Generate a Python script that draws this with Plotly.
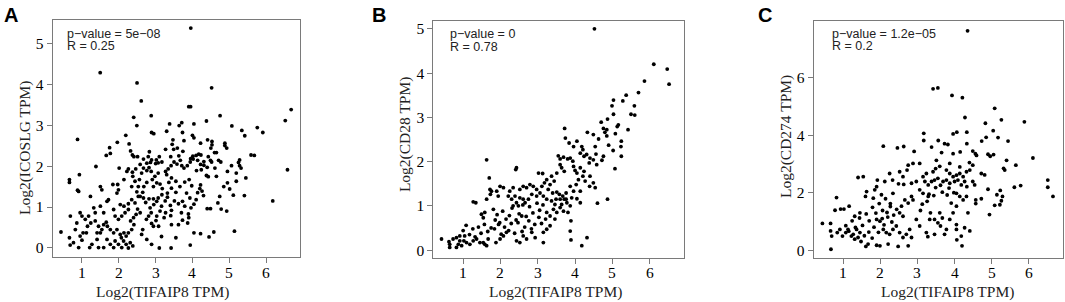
import plotly.graph_objects as go

# ---------------- data ----------------
x_title = "Log2(TIFAIP8 TPM)"
panel_letters = ["A", "B", "C"]
y_titles = ["Log2(ICOSLG TPM)", "Log2(CD28 TPM)", "Log2(CD274 TPM)"]
stats_p = ["p\u2212value = 5e\u221208", "p\u2212value = 0", "p\u2212value = 1.2e\u221205"]
stats_r = ["R = 0.25", "R = 0.78", "R = 0.2"]
x_ticks = [1, 2, 3, 4, 5, 6]
a_yticks = [0, 1, 2, 3, 4, 5]
b_yticks = [0, 1, 2, 3, 4, 5]
c_yticks = [0, 2, 4, 6]

a_points = [
    (3.955, 5.37), (1.495, 4.28), (2.495, 4.03), (4.52, 3.91), (2.61, 3.59), (3.90, 3.45), (3.95, 3.45),
    (6.68, 3.38), (2.405, 3.19), (2.88, 3.23), (4.75, 3.23), (6.52, 3.11), (2.49, 2.99), (3.38, 3.03),
    (3.71, 3.06), (3.64, 2.99), (4.04, 3.03), (4.38, 3.10), (5.07, 2.98), (5.34, 2.87), (5.76, 2.94),
    (5.91, 2.82), (2.89, 2.82), (2.95, 2.79), (3.30, 2.85), (3.73, 2.82), (0.88, 2.65), (4.0, 2.75),
    (4.04, 2.69), (3.77, 2.62), (4.22, 2.56), (4.41, 2.64), (4.53, 2.60), (4.88, 2.56), (4.88, 2.50),
    (4.93, 2.44), (4.53, 2.52), (4.50, 2.44), (5.42, 2.74), (2.19, 2.75), (1.96, 2.58), (2.28, 2.54),
    (1.75, 2.45), (3.47, 2.64),
    (1.66, 2.26), (1.77, 2.31), (1.38, 1.99), (2.01, 1.95), (2.32, 2.37), (2.37, 2.27), (2.41, 2.23),
    (2.51, 2.23), (2.58, 2.04), (2.26, 1.93), (2.22, 1.87), (2.37, 1.85), (2.46, 1.93), (2.89, 2.15),
    (2.86, 2.09), (3.02, 2.15), (3.07, 2.08), (3.17, 2.10), (3.10, 2.23), (3.27, 2.41), (3.0, 2.06),
    (2.76, 1.89), (2.82, 1.96), (2.88, 1.87), (3.45, 2.53), (3.49, 2.41), (3.59, 2.44), (3.41, 2.23),
    (3.63, 2.25), (3.74, 2.36), (3.67, 2.14), (3.50, 2.10), (3.42, 2.01), (3.58, 2.05), (3.71, 2.01),
    (3.77, 1.95), (3.86, 2.01), (3.95, 2.18), (3.94, 2.10), (4.01, 2.24), (4.02, 2.17), (4.10, 2.26),
    (4.14, 2.14), (4.17, 2.29), (4.23, 2.27), (4.31, 2.11), (4.22, 2.04), (4.31, 2.02), (4.43, 2.23),
    (4.49, 2.14), (4.52, 2.10), (4.60, 2.33), (4.65, 2.33), (4.71, 2.14), (4.77, 2.10), (4.40, 1.97),
    (4.24, 1.91), (4.11, 1.89), (4.61, 1.95), (4.38, 1.77), (4.43, 1.74), (4.65, 1.75), (4.95, 1.87),
    (4.95, 1.59), (5.19, 1.83), (5.25, 2.09), (5.28, 2.15), (5.28, 2.01), (5.32, 1.95), (5.19, 1.63),
    (5.45, 1.71), (5.59, 2.27), (5.68, 2.26), (5.06, 2.01), (6.58, 1.91), (6.18, 1.15), (5.41, 1.28),
    (5.11, 1.29), (4.93, 0.90), (5.14, 0.41), (4.58, 0.39), (4.45, 0.27), (4.22, 0.35), (4.04, 0.37),
    (3.94, 0.07), (3.87, 0.61), (3.89, 0.83), (3.90, 0.74), (3.96, 0.98), (4.04, 1.07), (4.10, 1.18),
    (4.14, 1.35), (4.20, 1.45), (4.22, 1.54), (4.26, 1.39), (4.30, 1.28), (4.40, 0.96), (4.49, 0.96),
    (3.93, 1.22), (3.98, 1.52), (3.91, 1.67), (3.79, 1.61), (3.84, 1.34), (3.73, 1.14), (3.79, 1.02),
    (3.70, 0.86), (3.62, 1.08), (3.51, 1.15), (3.55, 1.36), (3.43, 1.46), (3.36, 1.60), (3.43, 1.71),
    (3.30, 1.79), (3.27, 1.87), (3.34, 1.93), (3.55, 1.63), (3.66, 1.50), (3.32, 1.34), (3.32, 1.24),
    (3.26, 1.15), (3.40, 1.04), (3.43, 0.92), (3.41, 0.79), (3.27, 0.86), (3.23, 0.74), (3.43, 0.57),
    (3.55, 0.25), (3.62, 0.57), (3.73, 0.68), (3.16, 1.02), (3.12, 0.90), (3.03, 0.78), (3.01, 0.67),
    (2.89, 0.60), (2.94, 0.53), (3.16, 0.28), (3.08, 0.53), (3.42, 0.0), (3.10, 0.0), (2.89, 0.09),
    (2.76, 0.21), (2.62, 0.33), (2.65, 0.45), (2.75, 0.70), (2.81, 0.78), (2.88, 0.86), (2.85, 0.98),
    (2.95, 1.06), (3.03, 1.14), (2.94, 1.20), (2.82, 1.20), (3.07, 1.22), (3.17, 1.30), (3.18, 1.45),
    (3.12, 1.56), (3.03, 1.59), (2.94, 1.50), (2.91, 1.67), (2.98, 1.75), (3.07, 1.83), (2.76, 1.60),
    (2.68, 1.50), (2.65, 1.36), (2.58, 1.26), (2.49, 1.37), (2.44, 1.10), (2.51, 0.95), (2.58, 0.86),
    (2.47, 0.82), (2.40, 0.74), (2.32, 0.66), (2.41, 0.57), (2.35, 0.45), (2.26, 0.37), (2.20, 0.29),
    (2.14, 0.37), (2.07, 0.25), (2.13, 0.17), (2.20, 0.09), (2.31, 0.13), (2.38, 0.05), (2.26, 0.0),
    (2.08, 0.01), (1.99, 0.09), (2.04, 0.33), (1.95, 0.45), (1.86, 0.37), (1.77, 0.45), (1.69, 0.53),
    (1.66, 0.63), (1.59, 0.86), (1.50, 1.02), (1.68, 1.14), (1.72, 1.18), (1.86, 0.94), (1.90, 0.78),
    (1.99, 0.70), (2.08, 0.78), (2.17, 0.86), (2.26, 0.94), (2.04, 1.06), (2.14, 1.02), (2.26, 1.08),
    (2.35, 1.18), (1.95, 1.34), (1.99, 1.42), (1.97, 1.55), (1.84, 1.55), (1.50, 1.50), (1.54, 1.42),
    (1.23, 1.26), (1.32, 0.98), (1.36, 0.86), (1.18, 0.78), (1.09, 0.70), (0.95, 0.86), (1.0, 0.78),
    (0.86, 0.61), (0.82, 0.45), (0.685, 0.78), (0.66, 1.67), (0.66, 1.60), (0.93, 1.79), (0.88, 1.41),
    (0.91, 1.38), (0.43, 0.39), (0.66, 0.25), (0.68, 0.07), (0.77, 0.13), (0.91, 0.01), (1.0, 0.19),
    (1.12, 0.37), (1.21, 0.01), (1.27, 0.09), (1.41, 0.21), (1.50, 0.37), (1.45, 0.01), (1.59, 0.01),
    (1.68, 0.21), (1.77, 0.09), (1.86, 0.01), (1.90, 0.17), (1.24, 0.61), (1.36, 0.66), (1.45, 0.53),
    (1.54, 0.45), (1.59, 0.57), (1.15, 0.53), (1.03, 0.37), (0.95, 0.29), (1.41, 0.37), (2.53, 1.50),
    (2.56, 1.67), (2.62, 1.83), (2.67, 1.95), (2.76, 2.07), (2.67, 2.17), (2.80, 2.23), (2.83, 2.35),
    (2.35, 1.50), (2.44, 1.63), (2.38, 1.75), (2.14, 1.67), (2.53, 1.26), (2.67, 1.22), (2.73, 1.11),
    (5.01, 1.44), (4.74, 1.26), (4.85, 1.50), (4.69, 1.10), (4.78, 0.95),
]

b_points = [
    (4.52, 5.0), (6.11, 4.20), (6.47, 4.09), (6.52, 3.75), (5.86, 3.82), (5.70, 3.56), (5.37, 3.50),
    (5.28, 3.37), (5.03, 3.39), (4.99, 3.26), (5.59, 3.26), (5.60, 3.05), (5.50, 3.07), (5.03, 3.07),
    (4.87, 2.96), (5.16, 2.83), (5.13, 2.79), (5.42, 2.72), (4.76, 2.75), (4.85, 2.72), (4.80, 2.66),
    (4.70, 2.89), (4.33, 2.66), (4.49, 2.61), (4.63, 2.51), (4.85, 2.58), (5.08, 2.63), (5.24, 2.46),
    (5.23, 2.34), (5.24, 2.12), (4.90, 2.37), (5.02, 2.25), (3.72, 2.75), (3.74, 2.53), (3.84, 2.42),
    (3.96, 2.34), (4.05, 2.46), (4.18, 2.34), (4.21, 2.27), (4.14, 2.19), (4.24, 2.12), (4.31, 2.16),
    (4.40, 2.08), (4.38, 1.97), (4.56, 2.17), (4.54, 2.34), (4.49, 2.04), (4.58, 1.93), (4.72, 2.03),
    (4.76, 2.12), (5.07, 1.84), (4.87, 1.15), (4.60, 1.06), (3.55, 2.13), (3.60, 2.06), (3.69, 2.10),
    (3.80, 2.06), (3.87, 2.08), (3.94, 2.01), (3.60, 1.93), (3.64, 1.86), (3.71, 1.78), (3.96, 1.89),
    (4.0, 1.80), (4.05, 1.74), (4.14, 1.86), (4.24, 1.78), (4.21, 1.67), (4.27, 1.56), (4.40, 1.67),
    (4.49, 1.52), (4.54, 1.41), (4.39, 1.44), (4.09, 1.59), (4.03, 1.48), (4.14, 1.33), (3.87, 1.44),
    (3.96, 1.33), (3.91, 1.18), (3.76, 1.29), (3.67, 1.22), (3.76, 1.15), (3.87, 1.00), (3.81, 0.85),
    (3.89, 0.66), (3.87, 0.43), (3.89, 0.23), (4.18, 0.10), (4.32, 0.28), (4.05, 1.16), (4.14, 1.07),
    (3.51, 1.74), (3.37, 1.67), (3.44, 1.56), (3.33, 1.48), (3.24, 1.59), (3.28, 1.37), (3.40, 1.29),
    (3.51, 1.31), (3.58, 1.26), (3.60, 1.15), (3.49, 1.15), (3.46, 1.03), (3.37, 1.11), (3.24, 1.15),
    (3.15, 1.22), (3.06, 1.29), (2.97, 1.22), (3.11, 1.44), (3.18, 1.52), (3.02, 1.74), (3.13, 1.73),
    (2.79, 1.48), (2.70, 1.41), (2.61, 1.44), (2.52, 1.37), (2.43, 1.86), (2.41, 1.82), (2.34, 1.41),
    (2.25, 1.33), (2.21, 1.22), (2.30, 1.15), (2.39, 1.22), (1.99, 1.44), (2.08, 1.41), (1.90, 1.33),
    (1.94, 1.22), (1.72, 1.37), (1.76, 1.33), (1.73, 1.26), (1.63, 2.04), (1.70, 1.63), (1.63, 1.15),
    (1.27, 1.09), (1.34, 1.07), (1.49, 0.81), (1.54, 0.73), (1.58, 0.85),
    (1.81, 0.92), (1.86, 0.68), (1.91, 0.80), (1.98, 0.62), (2.06, 0.88), (2.15, 0.70), (2.24, 0.78),
    (2.31, 0.95), (2.42, 0.68), (2.50, 0.82), (2.60, 1.02), (2.69, 0.76), (2.78, 0.98), (2.87, 0.84),
    (2.98, 1.06), (3.05, 0.90), (3.14, 1.02),
    (1.84, 0.48), (1.95, 0.58), (2.02, 0.36), (2.11, 0.52), (2.22, 0.44), (2.29, 0.60), (2.38, 0.38),
    (2.47, 0.62), (2.58, 0.42), (2.65, 0.52), (2.76, 0.66), (2.83, 0.48), (2.92, 0.58), (3.03, 0.74),
    (3.10, 0.60), (3.21, 0.70),
    (2.43, 0.21), (2.52, 0.17), (2.61, 0.32), (2.70, 0.25),
    (2.84, 0.40), (2.93, 0.28), (3.15, 0.17), (2.08, 0.32), (2.16, 0.40), (1.99, 0.25), (1.88, 0.17),
    (1.67, 0.25), (1.58, 0.13), (1.63, 0.10), (1.54, 0.17), (1.45, 0.17), (1.36, 0.25), (1.27, 0.21),
    (1.18, 0.13), (1.09, 0.17), (1.02, 0.21), (0.96, 0.10), (0.87, 0.13), (0.82, 0.06), (0.64, 0.13),
    (0.64, 0.06), (0.62, 0.19), (0.42, 0.25),
    (1.00, 0.44), (1.08, 0.56), (1.17, 0.35), (1.26, 0.48), (1.32, 0.30), (1.41, 0.52), (1.48, 0.38),
    (1.57, 0.58), (1.66, 0.42), (1.75, 0.50),
    (0.91, 0.32), (0.82, 0.28), (0.73, 0.25), (0.91, 0.21), (1.04, 0.32), (2.88, 1.44), (2.97, 1.37),
    (2.84, 1.26), (2.75, 1.15), (2.66, 1.07), (2.61, 1.15), (2.52, 1.18), (2.43, 1.07), (2.34, 1.00),
    (2.48, 1.00), (2.57, 0.77), (3.24, 0.85), (3.33, 0.77), (3.42, 0.92), (3.51, 0.85), (3.60, 0.96),
    (3.69, 0.88), (3.78, 1.07), (3.46, 0.70), (3.33, 0.55), (3.24, 0.47), (3.15, 0.40), (3.64, 1.03),
    (3.71, 1.15),
]

c_points = [
    (4.35, 7.64), (3.42, 5.62), (3.55, 5.65), (3.93, 5.39), (4.21, 5.31), (4.28, 4.62), (5.08, 4.94),
    (5.26, 4.54), (5.88, 4.47), (5.04, 4.16), (4.83, 4.42), (4.33, 4.11), (4.06, 4.11), (3.96, 4.05),
    (3.17, 4.07), (3.17, 3.82), (5.17, 3.92), (5.44, 3.80), (4.85, 3.93), (4.73, 3.80), (3.56, 3.82),
    (3.73, 3.71), (3.82, 3.68), (4.33, 3.71), (3.38, 3.59), (2.08, 3.62), (2.46, 3.56), (2.63, 3.61),
    (2.91, 3.44), (3.65, 3.40), (3.96, 3.36), (4.15, 3.42), (4.49, 3.45), (4.56, 3.36), (4.59, 3.30),
    (4.90, 3.34), (4.96, 3.27), (5.05, 3.33), (6.11, 3.21), (5.40, 3.13), (5.65, 2.96), (5.32, 2.85),
    (5.35, 2.79), (4.40, 3.05), (4.49, 2.96), (4.14, 2.90), (3.87, 3.02), (3.51, 3.13), (3.06, 3.02),
    (2.88, 3.02), (2.75, 2.96), (2.72, 2.79), (2.52, 2.73), (2.61, 2.56), (2.25, 2.67), (2.33, 2.44),
    (1.54, 2.56), (1.40, 2.53), (1.92, 2.44), (2.12, 2.39), (2.49, 2.31), (2.63, 2.29), (2.84, 2.33),
    (2.97, 2.39), (3.15, 2.56), (3.24, 2.67), (3.42, 2.73), (3.49, 2.84), (3.60, 2.92), (3.78, 2.79),
    (3.87, 2.67), (3.96, 2.56), (4.05, 2.61), (4.14, 2.67), (4.23, 2.56), (4.32, 2.73), (4.41, 2.79),
    (4.00, 2.39), (4.09, 2.44), (4.18, 2.27), (4.27, 2.39), (4.33, 2.21), (4.49, 2.39), (4.54, 2.27),
    (4.72, 2.67), (4.81, 2.62), (5.14, 1.93), (5.29, 1.87), (5.23, 2.08), (4.90, 2.12), (5.61, 2.19),
    (5.78, 2.25), (6.51, 2.44), (6.51, 2.19), (6.65, 1.87), (5.08, 1.56), (5.22, 1.58), (5.26, 1.72),
    (4.94, 1.24), (4.57, 1.75), (4.57, 1.62), (4.72, 1.79), (4.36, 1.30), (4.41, 0.67), (4.27, 0.78),
    (4.05, 0.89), (4.05, 0.72), (4.18, 0.49), (4.20, 0.15), (4.06, 0.36), (3.78, 0.72), (3.73, 0.55),
    (3.87, 1.07), (3.96, 1.30), (4.05, 1.53), (3.91, 1.64), (3.60, 1.30), (3.67, 1.12), (3.55, 0.95),
    (3.62, 0.84), (3.46, 1.07), (3.33, 1.07), (3.35, 1.30), (3.24, 0.61), (3.28, 0.47), (3.46, 0.55),
    (3.06, 0.84), (2.97, 1.07), (3.08, 1.38), (3.13, 1.60), (3.26, 1.70), (3.31, 1.95), (3.44, 1.90),
    (3.49, 2.18), (3.62, 2.26), (3.67, 2.02), (3.80, 1.92), (3.85, 2.16), (3.98, 2.00), (2.88, 1.75),
    (2.84, 1.87), (2.75, 1.64), (2.66, 1.75), (2.57, 1.53), (2.52, 1.30), (2.61, 1.18),
    (2.34, 1.98), (2.27, 1.62), (2.14, 1.79), (2.06, 1.38), (1.97, 1.62), (1.88, 1.29), (1.79, 1.49),
    (1.70, 1.02), (1.62, 1.26), (1.52, 0.86), (1.44, 1.12), (1.33, 0.79), (1.24, 1.02), (1.15, 0.66),
    (1.07, 0.85),
    (2.18, 1.31), (2.27, 1.52), (2.36, 1.22), (2.44, 1.42), (2.31, 0.98), (2.20, 1.15), (2.10, 0.88),
    (2.05, 1.10), (1.95, 0.62), (1.83, 0.80), (1.78, 0.42), (1.69, 0.63), (1.57, 0.50), (1.48, 0.30),
    (1.90, 1.07), (1.99, 1.01), (2.08, 0.72), (2.16, 0.61), (2.25, 0.55), (2.34, 0.72), (2.43, 0.84),
    (2.52, 0.61), (2.61, 0.44), (2.70, 0.55), (2.79, 0.72), (2.84, 0.44), (2.75, 0.15), (2.48, 0.13),
    (2.21, 0.21), (1.99, 0.15), (1.90, 0.17), (1.67, 0.21), (1.61, 0.13), (0.66, 0.93), (0.66, 0.67),
    (0.69, 0.49), (0.67, 0.03), (0.82, 1.83), (0.78, 1.39), (0.93, 1.43), (1.02, 1.43), (0.44, 0.93),
    (0.84, 0.61), (0.91, 0.72), (0.98, 0.49), (1.07, 0.61), (1.13, 0.72), (1.22, 0.49), (1.31, 0.38),
    (1.40, 0.44), (1.45, 0.61), (1.36, 0.72), (1.27, 0.55), (1.16, 1.53), (1.31, 1.18), (1.45, 1.30),
    (1.60, 1.87), (1.63, 2.04), (1.81, 1.81), (1.85, 2.10), (1.90, 2.21), (2.03, 1.93), (3.20, 2.39),
    (3.29, 2.27), (3.38, 2.39), (3.46, 2.44), (3.55, 2.50), (3.69, 2.39), (3.78, 2.44), (3.87, 2.33),
    (3.06, 2.10), (3.15, 1.98), (3.29, 1.87), (4.05, 1.98), (4.14, 1.87), (4.23, 1.75), (4.32, 1.87),
]

# ---------------- figure ----------------
W, H = 1065, 302
boxes = [  # (left, right, top, bottom) in pixels
    (52.5, 300.0, 19.0, 257.7),
    (433.3, 684.0, 20.0, 258.3),
    (813.5, 1063.0, 20.5, 258.3),
]
x_range = [0.2, 6.92]
y_ranges = [[-0.22, 5.57], [-0.17, 5.18], [-0.26, 7.97]]
y_tick_sets = [a_yticks, b_yticks, c_yticks]
datasets = [a_points, b_points, c_points]

def px(x):
    return x / W

def py(y):
    return 1 - y / H

fig = go.Figure()
serif = "Liberation Serif, Times New Roman, serif"
sans = "Liberation Sans, Arial, sans-serif"
axis_gray = "#7a7a7a"
tick_font = dict(family=serif, size=15.5, color="black")

ann = []
for i, pts in enumerate(datasets):
    xs = [p[0] for p in pts]
    ys = [p[1] for p in pts]
    sfx = "" if i == 0 else str(i + 1)
    fig.add_trace(go.Scatter(
        x=xs, y=ys, mode="markers", xaxis="x" + sfx, yaxis="y" + sfx,
        marker=dict(color="black", size=3.8, line=dict(width=0)),
        showlegend=False, hoverinfo="skip",
    ))
    l, r, t, b = boxes[i]
    common = dict(showgrid=False, zeroline=False, showline=True, mirror=True,
                  linecolor=axis_gray, linewidth=1, ticks="outside", ticklen=5,
                  tickcolor=axis_gray, tickwidth=1, tickfont=tick_font)
    fig.update_layout(**{
        "xaxis" + sfx: dict(domain=[px(l), px(r)], range=x_range, tickvals=x_ticks,
                            showticklabels=False, anchor="y" + sfx, **common),
        "yaxis" + sfx: dict(domain=[py(b), py(t)], range=y_ranges[i], tickvals=y_tick_sets[i],
                            anchor="x" + sfx, **common),
    })
    # x tick labels placed at the data positions of the ticks
    for v in x_ticks:
        ann.append(dict(text=str(v), x=v, xref="x" + sfx, y=py(273), yref="paper",
                        xanchor="center", yanchor="middle", showarrow=False, font=tick_font))

# text annotations (positions in pixels)
letter_pos = [(11, 14), (379, 14), (765, 14)]
ytitle_pos = [(25, 148), (405, 134), (786, 137)]
xtitle_pos = [(162.5, 293), (555, 293), (947.5, 293)]
stat_pos = [(65, 33, 45.5), (448, 33.5, 46), (829.5, 33.5, 45.5)]

for i in range(3):
    lx, ly = letter_pos[i]
    ann.append(dict(text="<b>%s</b>" % panel_letters[i], x=px(lx), y=py(ly), xref="paper", yref="paper",
                    xanchor="center", yanchor="middle", showarrow=False,
                    font=dict(family=sans, size=20, color="black")))
    tx, ty = ytitle_pos[i]
    ann.append(dict(text=y_titles[i], x=px(tx), y=py(ty), xref="paper", yref="paper", textangle=-90,
                    xanchor="center", yanchor="middle", showarrow=False,
                    font=dict(family=serif, size=15.5, color="#222")))
    xx, xy = xtitle_pos[i]
    ann.append(dict(text=x_title, x=px(xx), y=py(xy), xref="paper", yref="paper",
                    xanchor="center", yanchor="middle", showarrow=False,
                    font=dict(family=serif, size=15.5, color="#222")))
    sx, s1, s2 = stat_pos[i]
    ann.append(dict(text=stats_p[i], x=px(sx), y=py(s1), xref="paper", yref="paper",
                    xanchor="left", yanchor="middle", showarrow=False,
                    font=dict(family=sans, size=12.5, color="#222")))
    ann.append(dict(text=stats_r[i], x=px(sx), y=py(s2), xref="paper", yref="paper",
                    xanchor="left", yanchor="middle", showarrow=False,
                    font=dict(family=sans, size=12.5, color="#222")))

fig.update_layout(width=W, height=H, margin=dict(l=0, r=0, t=0, b=0),
                  paper_bgcolor="white", plot_bgcolor="white", annotations=ann)

fig.write_html("out.html", config={"displayModeBar": False},
               post_script="document.body.style.margin='0';document.body.style.overflow='hidden';")
